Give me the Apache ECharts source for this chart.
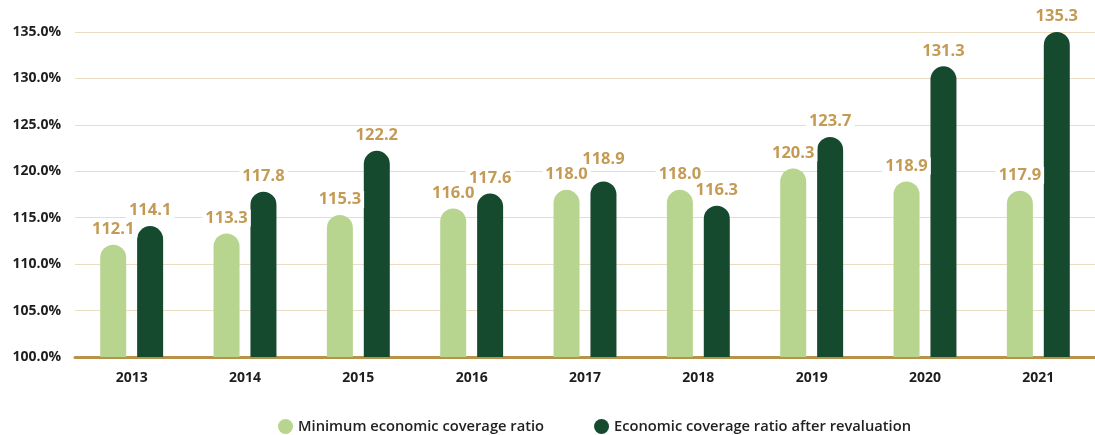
<!DOCTYPE html>
<html>
<head>
<meta charset="utf-8">
<script src="https://cdn.jsdelivr.net/npm/echarts@6/dist/echarts.min.js"></script>
<style>
  html, body { margin: 0; padding: 0; background: #fff; }
  #chart { width: 1095px; height: 435px; }
</style>
</head>
<body>
<div id="chart"></div>
<script>
const years = ['2013', '2014', '2015', '2016', '2017', '2018', '2019', '2020', '2021'];
const minimumRatio = [112.1, 113.3, 115.3, 116.0, 118.0, 118.0, 120.3, 118.9, 117.9];
const afterRevaluation = [114.1, 117.8, 122.2, 117.6, 118.9, 116.3, 123.7, 131.3, 135.3];
const seriesNames = ['Minimum economic coverage ratio', 'Economic coverage ratio after revaluation'];

const FONT = '"Open Sans", Lato, sans-serif';
const labelStyle = {
  show: true,
  position: 'top',
  distance: 7,
  color: '#C49B55',
  fontFamily: FONT,
  fontWeight: 'bold',
  fontSize: 16.5,
  backgroundColor: '#fff',
  padding: [0, 3],
  formatter: p => p.value.toFixed(1)
};

// Where two neighbouring labels would collide, lift the taller bar's label a little.
function withLiftedLabels(values, others) {
  return values.map((v, i) => {
    const close = Math.abs(v - others[i]) < 1.5 && v > others[i];
    return close ? { value: v, label: { distance: 14 } } : v;
  });
}

const chart = echarts.init(document.getElementById('chart'));
chart.setOption({
  animation: false,
  grid: { left: 75, right: 0, top: 32, bottom: 78 },
  legend: {
    left: 273,
    top: 414,
    icon: 'circle',
    itemWidth: 15,
    itemHeight: 15,
    itemGap: 50,
    textStyle: { color: '#222', fontFamily: FONT, fontSize: 14.7, fontWeight: 600 },
    data: seriesNames
  },
  xAxis: {
    type: 'category',
    data: years,
    axisLine: { lineStyle: { color: '#B8924A', width: 3 } },
    axisTick: { show: false },
    axisLabel: { color: '#1E1E1E', fontFamily: FONT, fontWeight: 'bold', fontSize: 14, margin: 14 }
  },
  yAxis: {
    type: 'value',
    min: 100,
    max: 135,
    interval: 5,
    axisLine: { show: false },
    axisTick: { show: false },
    axisLabel: {
      color: '#1E1E1E', fontFamily: FONT, fontWeight: 'bold', fontSize: 14, margin: 14,
      formatter: v => v.toFixed(1) + '%'
    },
    splitLine: { lineStyle: { color: '#EBDDC2', width: 1 } }
  },
  series: [
    {
      name: seriesNames[0],
      type: 'bar',
      data: minimumRatio,
      barWidth: 26,
      barGap: '42%',
      itemStyle: { color: '#B7D58E', borderRadius: [13, 13, 0, 0] },
      label: labelStyle
    },
    {
      name: seriesNames[1],
      type: 'bar',
      data: withLiftedLabels(afterRevaluation, minimumRatio),
      barWidth: 26,
      itemStyle: { color: '#154A2F', borderRadius: [13, 13, 0, 0] },
      label: labelStyle
    }
  ]
});
</script>
</body>
</html>
